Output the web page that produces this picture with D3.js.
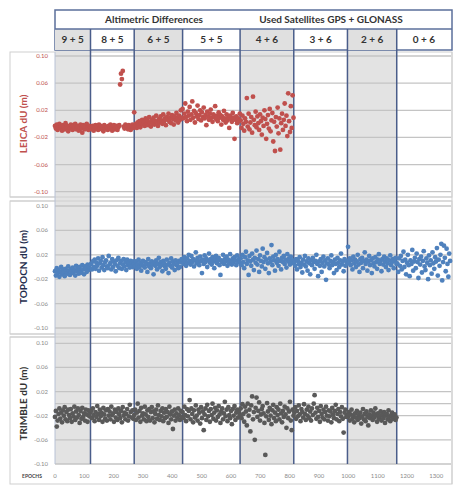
<!DOCTYPE html>
<html><head><meta charset="utf-8">
<script src="https://cdn.jsdelivr.net/npm/d3@7"></script>
<style>body{margin:0;background:#fff}svg{display:block}</style>
</head><body><svg id="c" width="456" height="485"></svg>
<script>
// ---- data ----
const epochStep = 3; // epochs between consecutive samples
const headerTitles = ["Altimetric Differences", "Used Satellites  GPS + GLONASS"];
const satGroups = ["9 + 5","8 + 5","6 + 5","5 + 5","4 + 6","3 + 6","2 + 6","0 + 6"];
const groupStarts = [0,121,270,435,631,814,997,1165];
const groupEnds   = [121,270,435,631,814,997,1165,1350];
const groupShaded = [true,false,true,false,true,false,true,false];
const xTicks = [0,100,200,300,400,500,600,700,800,900,1000,1100,1200,1300];
const yTicks = [0.10,0.06,0.02,-0.02,-0.06,-0.10];
const yTickLabels = ["0.10","0.06","0.02","-0.02","-0.06","-0.10"];
const seriesNames = ["LEICA dU (m)","TOPOCN dU (m)","TRIMBLE dU (m)"];
// values in millimetres, one every 3 epochs starting at epoch 0
const leicaMM = [
-3,-7,-1,-9,-5,0,-6,-4,-10,-2,-5,-8,1,-6,-3,-11,-4,-7,-1,-5,-9,-2,-6,0,-8,-4,-3,-10,-6,-1,-7,-13,-2,-5,-8,-4,0,-6,-9,-3,-5,
-5,-8,-3,-10,-6,-2,-7,-4,-9,-1,-6,-3,-8,-5,-11,-2,-7,-4,-6,-9,-3,-5,-1,-7,-10,-4,-2,-8,-6,-3,-9,-5,-2,58,74,66,78,-4,-7,-1,-6,-3,-8,-2,-5,-9,-4,-1,-6,
17,-4,0,-6,2,-2,4,-5,1,6,-1,3,-3,8,0,5,-2,10,2,-4,6,1,9,-1,4,12,3,-3,7,2,11,5,0,14,4,8,-2,10,6,15,3,9,1,13,7,-1,11,5,16,8,2,12,6,20,9,
22,8,15,30,10,4,18,12,25,6,14,33,9,19,2,16,11,27,7,13,20,5,17,10,24,8,13,-2,18,11,6,15,21,9,3,14,10,26,7,12,4,17,9,13,-1,11,6,19,8,2,14,5,10,-6,12,7,3,16,9,-22,6,11,1,8,4,15,
5,-6,12,0,-10,8,3,38,-4,15,-8,2,10,-13,40,6,-2,18,-5,11,1,-9,14,4,-16,9,-3,20,7,-22,0,13,-7,22,-11,5,16,-26,3,-40,10,-4,24,-14,8,-38,1,15,-9,6,30,-3,12,-18,45,4,-12,26,-6,42,9
];
const topocnMM = [
-7,-14,-2,-10,-5,-16,-8,0,-12,-4,-9,-15,-3,-7,-11,1,-6,-13,-4,-8,-1,-10,-5,-14,2,-7,-3,-11,0,-6,-9,3,-4,-12,1,-2,-8,4,-5,-1,-3,
5,-4,9,0,12,-3,7,2,14,-6,6,10,-1,16,3,-5,8,11,1,-2,18,4,7,-4,13,0,9,5,-7,11,2,15,-2,6,10,-3,4,13,1,8,-5,12,3,7,-1,10,5,0,9,
6,1,9,-3,4,12,0,7,-6,3,10,2,-1,8,5,-8,13,1,6,-2,9,4,-12,7,2,11,-4,5,15,0,8,3,-7,10,6,1,-3,12,4,-10,7,2,14,-1,9,5,-5,11,3,6,-2,10,0,8,13,
12,5,16,9,2,14,7,20,10,4,18,8,13,1,11,24,6,15,9,3,17,10,-10,12,5,19,8,14,0,11,22,7,13,4,16,9,-2,12,18,6,10,15,3,-13,11,8,20,5,13,9,17,2,12,6,21,10,4,14,8,16,11,3,19,9,13,7,
14,3,20,8,-2,16,25,5,11,-13,18,9,2,22,12,-5,15,7,27,4,13,-8,19,10,1,30,8,16,-3,12,23,6,-10,14,9,36,3,17,11,-6,20,7,13,2,25,10,-4,15,8,18,5,12,-1,21,9,14,4,17,8,11,6,
8,2,13,-4,10,5,16,0,7,-9,12,4,18,1,9,-6,14,6,-12,11,3,15,8,-3,10,20,5,-15,9,2,13,-8,7,17,1,11,-21,6,14,4,-2,10,19,3,8,-10,12,5,-5,15,7,0,11,22,4,9,-7,13,2,10,6,
33,8,14,3,11,-4,17,6,12,0,9,20,4,-8,13,7,15,-2,10,24,5,12,-6,9,18,3,11,-10,14,6,1,16,8,-3,12,21,5,10,-7,13,4,17,9,0,14,6,-5,11,19,3,8,13,-2,10,15,5,
6,-8,14,2,18,-4,10,25,0,12,-12,7,20,3,-15,11,5,28,-6,9,15,-2,22,8,-18,13,4,17,-9,10,26,1,-5,14,7,-20,19,3,11,-11,24,6,-3,16,9,31,-14,12,2,20,38,-22,8,35,15,-7,30,5,-16,22,10
];
const trimbleMM = [
-22,-12,-38,-28,-17,-8,-25,-15,-31,-11,-20,-6,-26,-14,-29,-10,-19,-24,-9,-30,-16,-21,-5,-27,-13,-23,-8,-19,-32,-12,-25,-7,-22,-16,-28,-10,-18,-30,-11,-21,-15,
-12,-24,-8,-19,-29,-14,-22,-4,-17,-27,-10,-21,-15,-30,-7,-18,-25,-11,-28,-9,-20,-13,-26,-5,-19,-16,-30,-10,-23,-14,-27,-8,-18,-24,-12,-31,-6,-20,-15,-26,-17,-9,-28,-21,-2,-14,-23,-11,-25,
-19,-10,-27,-15,0,-23,-12,-30,-7,-20,-16,-26,-5,-18,-29,-11,-22,-9,-28,-14,-6,-24,-13,-31,-17,-10,-25,-3,-19,-27,-12,-21,-8,-29,-15,-24,-9,-22,-14,-32,-5,-18,-26,-13,-42,-20,-10,-28,-16,-23,-8,-19,-27,-12,-22,
-14,-24,-5,-19,-29,-9,-21,-12,6,-26,-8,-17,-31,-11,-23,-3,-20,-28,-10,-15,-33,-6,-24,-13,-44,-18,-8,-27,-2,-21,-12,-30,-9,-19,0,-25,-15,-7,-28,-11,-22,-4,-18,-32,-13,-8,-26,-16,3,-21,-10,-29,-6,-19,-24,-12,-34,-9,-20,-4,-27,-15,-10,-23,-14,-19,
-8,-24,-1,-17,-30,-5,-13,-36,0,-20,-10,-46,-3,12,-26,-14,-60,-7,10,-22,-12,2,-28,-18,-9,-4,-16,-32,-85,-21,1,-13,-27,-7,-20,-34,-11,-2,-24,-15,-29,-6,-19,-10,-26,0,-16,-31,-12,-22,-5,-18,-40,-8,-24,-13,3,-28,-44,-10,-20,
-15,-6,-25,-12,-21,-3,-18,-29,-9,-14,-23,-1,-17,-27,-10,-20,-5,-24,-13,-28,-8,-19,0,14,-15,-25,-7,-22,-12,-30,-4,-17,-23,-10,-26,-14,-5,-20,-28,-11,-21,-13,-31,-7,-18,-24,-12,-2,-26,-17,-9,-29,-14,-21,-6,-25,-48,-15,-10,-22,-19,
-22,-14,-28,-18,-10,-25,-20,-31,-16,-23,-12,-27,-19,-24,-15,-33,-21,-9,-26,-17,-29,-13,-22,-36,-18,-24,-11,-20,-27,-15,-23,-8,-19,-30,-16,-25,-21,-13,-28,-18,-24,-14,-32,-20,-17,-26,-11,-22,-29,-19,-15,-25,-21,-18,-27,-23
];

// ---- drawing ----
const svg = d3.select("#c");
const FONT = "Lato, 'Open Sans', sans-serif";
const x = d3.scaleLinear().domain([0,1350]).range([55,451]);
const panels = [
  {data:leicaMM,   color:"#c0504d", title:"#c0504d", tick:"#c0504d", range:[191.7,56],  box:[52,197]},
  {data:topocnMM,  color:"#4f81bd", title:"#1f2d4d", tick:"#8a8a8a", range:[328,206],   box:[201,334]},
  {data:trimbleMM, color:"#595959", title:"#333333", tick:"#8a8a8a", range:[464,343.3], box:[337,484], zero:true}
];
panels.forEach((p,i)=>{ p.name = seriesNames[i]; p.y = d3.scaleLinear().domain([-0.1,0.1]).range(p.range); });

const groups = satGroups.map((g,i)=>({label:g, s:groupStarts[i], e:groupEnds[i], shaded:groupShaded[i]}));
const plotTop = 50, plotBottom = 464;

// panel boxes
panels.forEach(p=>{
  svg.append("rect").attr("x",10).attr("y",p.box[0]).attr("width",442).attr("height",p.box[1]-p.box[0])
    .attr("fill","#fff").attr("stroke","#cfcfcf").attr("stroke-width",1);
});
// shaded columns
svg.selectAll("rect.shade").data(groups.filter(g=>g.shaded)).join("rect").attr("class","shade")
  .attr("x",d=>x(d.s)).attr("width",d=>x(d.e)-x(d.s)).attr("y",plotTop).attr("height",plotBottom-plotTop)
  .attr("fill","#e3e3e3");
// panel separators over shading
panels.forEach((p,i)=>{
  [p.box[0],p.box[1]].forEach(yy=>{
    if (i===0 && yy===p.box[0]) return;
    if (i===2 && yy===p.box[1]) return;
    svg.append("line").attr("x1",10).attr("x2",452).attr("y1",yy).attr("y2",yy)
      .attr("stroke","#cfcfcf").attr("stroke-width",1.2);
  });
});
// gridlines and y ticks
panels.forEach(p=>{
  const g = svg.append("g");
  g.selectAll("line").data(p.zero ? yTicks.concat([0]) : yTicks).join("line")
    .attr("x1",55).attr("x2",451).attr("y1",d=>p.y(d)).attr("y2",d=>p.y(d))
    .attr("stroke","#c4c4c4").attr("stroke-width",1.3);
  g.selectAll("text").data(yTicks).join("text")
    .attr("x",48).attr("y",d=>p.y(d)+2).attr("text-anchor","end")
    .attr("font-family",FONT).attr("font-size",6).attr("fill",p.tick)
    .text((d,i)=>yTickLabels[i]);
  svg.append("text").attr("transform",`translate(27,${(p.range[0]+p.range[1])/2}) rotate(-90)`)
    .attr("text-anchor","middle").attr("font-family",FONT).attr("font-weight","bold")
    .attr("font-size",10).attr("fill",p.title).text(p.name);
});
// left plot edge
svg.append("line").attr("x1",55).attr("x2",55).attr("y1",52).attr("y2",plotBottom)
  .attr("stroke","#b8c2d6").attr("stroke-width",1);

// header
svg.append("rect").attr("x",55).attr("y",10).attr("width",397).attr("height",40)
  .attr("fill","#fff").attr("stroke","#5b6f9b").attr("stroke-width",1.5);
svg.selectAll("rect.hcell").data(groups.filter(g=>g.shaded)).join("rect").attr("class","hcell")
  .attr("x",d=>x(d.s)).attr("width",d=>x(d.e)-x(d.s)).attr("y",29).attr("height",21)
  .attr("fill","#e0e0e0");
svg.append("line").attr("x1",55).attr("x2",452).attr("y1",29).attr("y2",29)
  .attr("stroke","#5b6f9b").attr("stroke-width",1.5);
svg.selectAll("text.hcell").data(groups).join("text").attr("class","hcell")
  .attr("x",d=>(x(d.s)+x(Math.min(d.e,1350)))/2).attr("y",43).attr("text-anchor","middle")
  .attr("font-family",FONT).attr("font-weight","bold").attr("font-size",10).attr("fill","#333")
  .text(d=>d.label);
svg.append("text").attr("x",154).attr("y",23).attr("text-anchor","middle")
  .attr("font-family",FONT).attr("font-weight","bold").attr("font-size",10).attr("fill","#333").text(headerTitles[0]);
svg.append("text").attr("x",331).attr("y",23).attr("text-anchor","middle")
  .attr("font-family",FONT).attr("font-weight","bold").attr("font-size",10).attr("fill","#333").text(headerTitles[1]);

// group separator lines
svg.selectAll("line.sep").data(groupStarts.slice(1)).join("line").attr("class","sep")
  .attr("x1",d=>x(d)).attr("x2",d=>x(d)).attr("y1",29).attr("y2",plotBottom)
  .attr("stroke","#4a5d8a").attr("stroke-width",1.5);
svg.append("line").attr("x1",452).attr("x2",452).attr("y1",52).attr("y2",484)
  .attr("stroke","#cfcfcf").attr("stroke-width",1);

// points
panels.forEach(p=>{
  svg.append("g").selectAll("circle").data(p.data).join("circle")
    .attr("cx",(d,i)=>x(i*epochStep)).attr("cy",d=>p.y(d/1000)).attr("r",2.4)
    .attr("fill",p.color);
});

// x axis labels
svg.selectAll("text.xt").data(xTicks).join("text").attr("class","xt")
  .attr("x",d=>x(d)).attr("y",478).attr("text-anchor","middle")
  .attr("font-family",FONT).attr("font-size",6).attr("fill","#8a8a8a").text(d=>d);
svg.append("text").attr("x",32).attr("y",478).attr("text-anchor","middle")
  .attr("font-family",FONT).attr("font-weight","bold").attr("font-size",5).attr("fill","#444").text("EPOCHS");
</script></body></html>
